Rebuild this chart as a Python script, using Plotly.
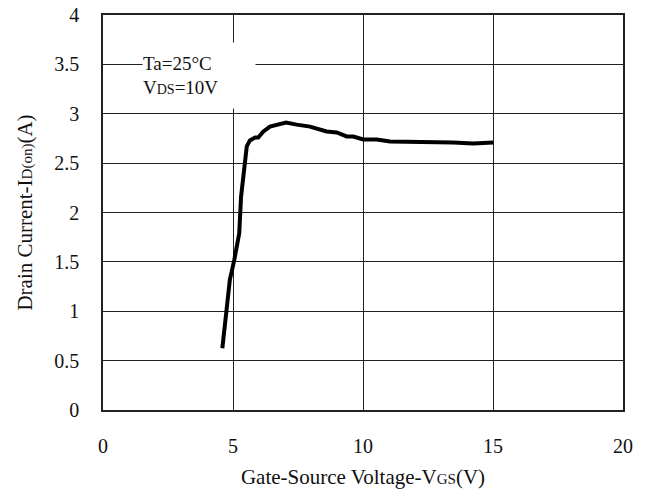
import plotly.graph_objects as go

vgs = [4.59, 4.88, 5.05, 5.24, 5.31, 5.40, 5.53, 5.65, 5.85, 5.97, 6.17, 6.42, 6.68,
       7.04, 7.45, 7.96, 8.60, 8.99, 9.37, 9.63, 10.01, 10.53, 11.04, 11.94, 12.70,
       13.47, 14.24, 15.01]
id_on = [0.625, 1.32, 1.52, 1.79, 2.16, 2.40, 2.67, 2.73, 2.76, 2.76, 2.82, 2.87, 2.89,
         2.91, 2.89, 2.87, 2.82, 2.81, 2.77, 2.77, 2.74, 2.74, 2.72, 2.72, 2.717,
         2.71, 2.70, 2.71]

x_ticks = [0, 5, 10, 15, 20]
y_ticks = [0, 0.5, 1, 1.5, 2, 2.5, 3, 3.5, 4]
y_tick_text = ["0", "0.5", "1", "1.5", "2", "2.5", "3", "3.5", "4"]

FONT = "Liberation Serif"

fig = go.Figure()
fig.add_trace(go.Scatter(x=vgs, y=id_on, mode="lines",
                         line=dict(color="black", width=4), showlegend=False))

fig.update_layout(
    width=647, height=497,
    margin=dict(l=103, r=24, t=15, b=87),
    paper_bgcolor="white", plot_bgcolor="white",
    font=dict(family=FONT, color="#111", size=20),
    xaxis=dict(range=[0, 20], tickvals=x_ticks, showgrid=True, gridcolor="#222",
               gridwidth=1, showline=True, linecolor="#222", linewidth=1.5, mirror=True,
               zeroline=False, ticks="", ticklabelstandoff=17, automargin=False,
               title=dict(text='Gate-Source Voltage-V<span style="font-size:15px">GS</span>(V)',
                          font=dict(size=21, family=FONT), standoff=14)),
    yaxis=dict(range=[0, 4], tickvals=y_ticks, ticktext=y_tick_text, showgrid=True,
               gridcolor="#222", gridwidth=1, showline=True, linecolor="#222",
               linewidth=1.5, mirror=True, zeroline=False, ticks="", ticklabelstandoff=18,
               automargin=False,
               title=dict(text='Drain Current-I<span style="font-size:15px">D(on)</span>(A)',
                          font=dict(size=21, family=FONT), standoff=16)),
    annotations=[dict(
        x=3.70, y=3.39, xref="x", yref="y", xanchor="center", yanchor="middle",
        text='Ta=25°C<br>V<span style="font-size:14px">DS</span>=10V',
        showarrow=False, align="left", bgcolor="white", borderpad=0,
        width=112, height=65, font=dict(size=19, family=FONT, color="#111"))],
)

fig.write_html("out.html", config={"displayModeBar": False},
               post_script="document.body.style.margin='0';document.body.style.overflow='hidden';")
